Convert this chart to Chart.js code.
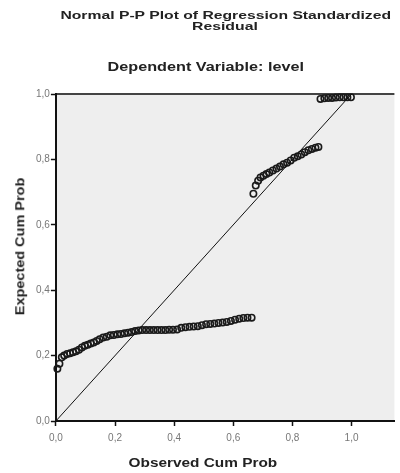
<!DOCTYPE html>
<html lang="en">
<head>
  <meta charset="UTF-8">
  <title>Normal P-P Plot of Regression Standardized Residual</title>
  <style>
    body { margin: 0; background: #fff; font-family: 'Liberation Sans', Arial, sans-serif; }
    #wrap { position: relative; width: 400px; height: 473px; }
    canvas { position: absolute; left: 0; top: 0; }
    .txt { position: absolute; white-space: nowrap; font-weight: bold; color: #222; transform-origin: center center; }
  </style>
  <script src="https://cdn.jsdelivr.net/npm/chart.js"></script>
</head>
<body>
<div id="wrap">
  <canvas id="pp" width="400" height="473"></canvas>
  <div class="txt" id="t1">Normal P-P Plot of Regression Standardized</div>
  <div class="txt" id="t2">Residual</div>
  <div class="txt" id="t3">Dependent Variable: level</div>
  <div class="txt" id="tx">Observed Cum Prob</div>
  <div class="txt" id="ty">Expected Cum Prob</div>
</div>
<script>
  // observed cumulative probability (x) and expected cumulative probability (y)
  const observedProb = [
    0.005, 0.012, 0.020, 0.028, 0.038, 0.048, 0.058, 0.068, 0.078, 0.088,
    0.098, 0.108, 0.118, 0.128, 0.138, 0.148, 0.160, 0.172, 0.184, 0.196,
    0.208, 0.220, 0.232, 0.244, 0.256, 0.268, 0.280, 0.292, 0.305, 0.318,
    0.331, 0.344, 0.357, 0.370, 0.383, 0.396, 0.410, 0.424, 0.438, 0.452,
    0.466, 0.480, 0.494, 0.508, 0.522, 0.536, 0.550, 0.564, 0.578, 0.592,
    0.606, 0.620, 0.634, 0.648, 0.662,
    0.668, 0.676, 0.684, 0.692, 0.702, 0.712, 0.722, 0.734, 0.746, 0.758,
    0.770, 0.782, 0.794, 0.806, 0.818, 0.830, 0.842, 0.854, 0.866, 0.878, 0.888,
    0.895, 0.908, 0.921, 0.934, 0.947, 0.960, 0.973, 0.986, 0.998
  ];
  const expectedProb = [
    0.160, 0.175, 0.195, 0.200, 0.205, 0.207, 0.210, 0.213, 0.218, 0.225,
    0.230, 0.233, 0.237, 0.240, 0.245, 0.250, 0.255, 0.258, 0.262, 0.263,
    0.265, 0.266, 0.268, 0.270, 0.272, 0.275, 0.277, 0.278, 0.278, 0.278,
    0.278, 0.278, 0.278, 0.278, 0.279, 0.279, 0.280, 0.285, 0.287, 0.288,
    0.289, 0.290, 0.293, 0.296, 0.297, 0.298, 0.300, 0.301, 0.303, 0.306,
    0.310, 0.313, 0.315, 0.316, 0.316,
    0.695, 0.720, 0.735, 0.745, 0.750, 0.755, 0.760, 0.766, 0.772, 0.778,
    0.785, 0.790, 0.797, 0.805, 0.810, 0.815, 0.822, 0.828, 0.832, 0.836, 0.838,
    0.985, 0.987, 0.988, 0.988, 0.989, 0.990, 0.990, 0.990, 0.990
  ];
  // reference diagonal
  const lineX = [0, 1];
  const lineY = [0, 1];
  // tick values
  const xTicks = [0, 0.2, 0.4, 0.6, 0.8, 1.0];
  const yTicks = [0, 0.2, 0.4, 0.6, 0.8, 1.0];

  const fmt = v => v.toFixed(1).replace('.', ',');

  // gray plot background + top frame line
  const plotBg = {
    id: 'plotBg',
    beforeDraw(chart) {
      const { ctx, chartArea: a } = chart;
      ctx.save();
      ctx.fillStyle = '#eeeeee';
      ctx.fillRect(a.left, a.top, a.width, a.height);
      ctx.strokeStyle = '#444';
      ctx.lineWidth = 2;
      ctx.beginPath();
      ctx.moveTo(a.left, a.top);
      ctx.lineTo(a.right, a.top);
      ctx.stroke();
      ctx.restore();
    }
  };

  const axisCommon = {
    type: 'linear',
    grid: { drawOnChartArea: false, drawTicks: true, tickLength: 5, tickColor: '#111', tickWidth: 1.5 },
    border: { color: '#111', width: 2 },
    ticks: { color: '#777', font: { family: 'Liberation Sans', size: 10 }, callback: v => fmt(v) }
  };

  new Chart(document.getElementById('pp').getContext('2d'), {
    data: {
      datasets: [
        {
          type: 'line',
          data: lineX.map((x, i) => ({ x: x, y: lineY[i] })),
          borderColor: '#111',
          borderWidth: 1,
          pointRadius: 0,
          fill: false
        },
        {
          type: 'scatter',
          data: observedProb.map((x, i) => ({ x: x, y: expectedProb[i] })),
          pointStyle: 'circle',
          pointRadius: 3.2,
          borderWidth: 1.6,
          borderColor: '#1a1a1a',
          backgroundColor: 'rgba(0,0,0,0)',
          clip: false
        }
      ]
    },
    options: {
      responsive: false,
      animation: false,
      layout: { padding: { top: 94, left: 35, right: 0, bottom: 23 } },
      plugins: { legend: { display: false }, tooltip: { enabled: false }, title: { display: false } },
      scales: {
        x: Object.assign({}, axisCommon, {
          min: 0, max: 1.145,
          ticks: Object.assign({}, axisCommon.ticks, { padding: 6, maxRotation: 0 }),
          afterBuildTicks: s => { s.ticks = xTicks.map(v => ({ value: v })); }
        }),
        y: Object.assign({}, axisCommon, {
          min: 0, max: 1,
          ticks: Object.assign({}, axisCommon.ticks, { padding: 1 }),
          afterBuildTicks: s => { s.ticks = yTicks.map(v => ({ value: v })); }
        })
      }
    },
    plugins: [plotBg]
  });

  // place text: center x, center y, target width, font size, rotation
  function place(id, cx, cy, w, size, rot) {
    const el = document.getElementById(id);
    el.style.fontSize = size + 'px';
    const nat = el.offsetWidth, h = el.offsetHeight;
    el.style.left = (cx - nat / 2) + 'px';
    el.style.top = (cy - h / 2) + 'px';
    el.style.transform = (rot ? 'rotate(' + rot + 'deg) ' : '') + 'scaleX(' + (w / nat) + ')';
  }
  place('t1', 225, 15, 330, 11, 0);
  place('t2', 225, 26, 66, 11, 0);
  place('t3', 206, 66, 197, 13, 0);
  place('tx', 203, 462, 149, 13, 0);
  place('ty', 20, 246, 138, 13, -90);
</script>
</body>
</html>
